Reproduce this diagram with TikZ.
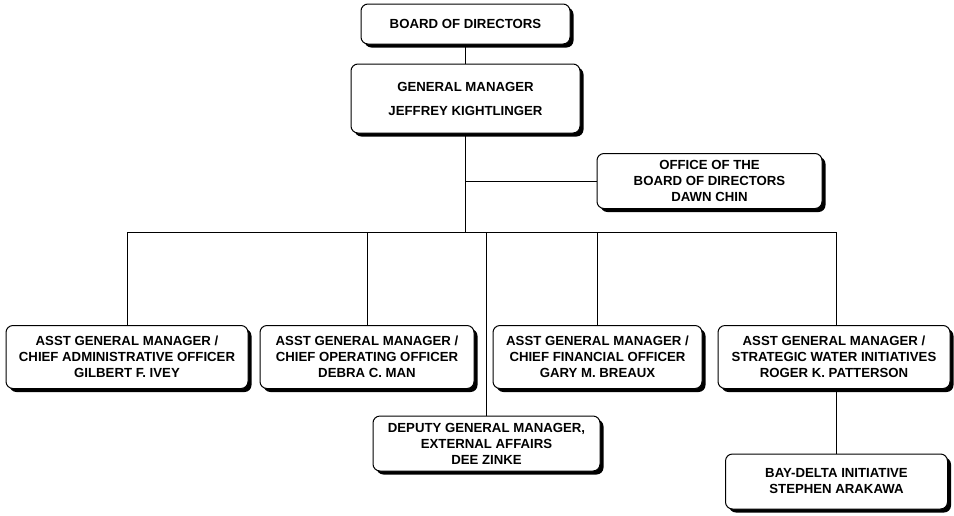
\documentclass[tikz,border=0pt]{standalone}
\usepackage{fontspec}
\setmainfont{Liberation Sans}
\usetikzlibrary{shadows}
\begin{document}
\begin{tikzpicture}[x=1pt,y=-1pt,
  orgbox/.style={draw=black, line width=1pt, fill=white, rounded corners=7pt,
    align=center, inner sep=0pt,
    font=\bfseries\fontsize{13.2}{16}\selectfont,
    drop shadow={shadow xshift=3.5pt, shadow yshift=-3.5pt, fill=black, opacity=1}},
  link/.style={draw=black, line width=1pt}]
\useasboundingbox (0,0) rectangle (954,515);
\node[orgbox, minimum width=209pt, minimum height=40pt] (board) at (465.5,24) {BOARD OF DIRECTORS};
\node[orgbox, minimum width=229pt, minimum height=69pt] (gm) at (465.5,98.5) {GENERAL MANAGER\\[8pt]JEFFREY KIGHTLINGER};
\node[orgbox, minimum width=225pt, minimum height=55pt] (office) at (709.5,181) {OFFICE OF THE\\BOARD OF DIRECTORS\\DAWN CHIN};
\node[orgbox, minimum width=242pt, minimum height=63pt] (a1) at (127,357) {ASST GENERAL MANAGER /\\CHIEF ADMINISTRATIVE OFFICER\\GILBERT F. IVEY};
\node[orgbox, minimum width=214pt, minimum height=63pt] (a2) at (367,357) {ASST GENERAL MANAGER /\\CHIEF OPERATING OFFICER\\DEBRA C. MAN};
\node[orgbox, minimum width=209pt, minimum height=63pt] (a3) at (597.5,357) {ASST GENERAL MANAGER /\\CHIEF FINANCIAL OFFICER\\GARY M. BREAUX};
\node[orgbox, minimum width=232pt, minimum height=63pt] (a4) at (834,357) {ASST GENERAL MANAGER /\\STRATEGIC WATER INITIATIVES\\ROGER K. PATTERSON};
\node[orgbox, minimum width=227pt, minimum height=55pt] (dep) at (486.5,443.5) {DEPUTY GENERAL MANAGER,\\EXTERNAL AFFAIRS\\DEE ZINKE};
\node[orgbox, minimum width=222pt, minimum height=55pt] (bay) at (836.5,481.5) {BAY-DELTA INITIATIVE\\STEPHEN ARAKAWA};
\coordinate (bus) at (466,232);
\draw[link] (board.south) -- (gm.north);
\draw[link] (gm.south) -- (gm.south |- bus);
\draw[link] (office.west) -- (office.west -| gm.south);
\draw[link] (a1.north |- bus) -- (bay.north |- bus);
\draw[link] (a1.north |- bus) -- (a1.north);
\draw[link] (a2.north |- bus) -- (a2.north);
\draw[link] (a3.north |- bus) -- (a3.north);
\draw[link] (dep.north |- bus) -- (dep.north);
\draw[link] (bay.north |- bus) -- (bay.north |- a4.north);
\draw[link] (bay.north |- a4.south) -- (bay.north);
\end{tikzpicture}
\end{document}
